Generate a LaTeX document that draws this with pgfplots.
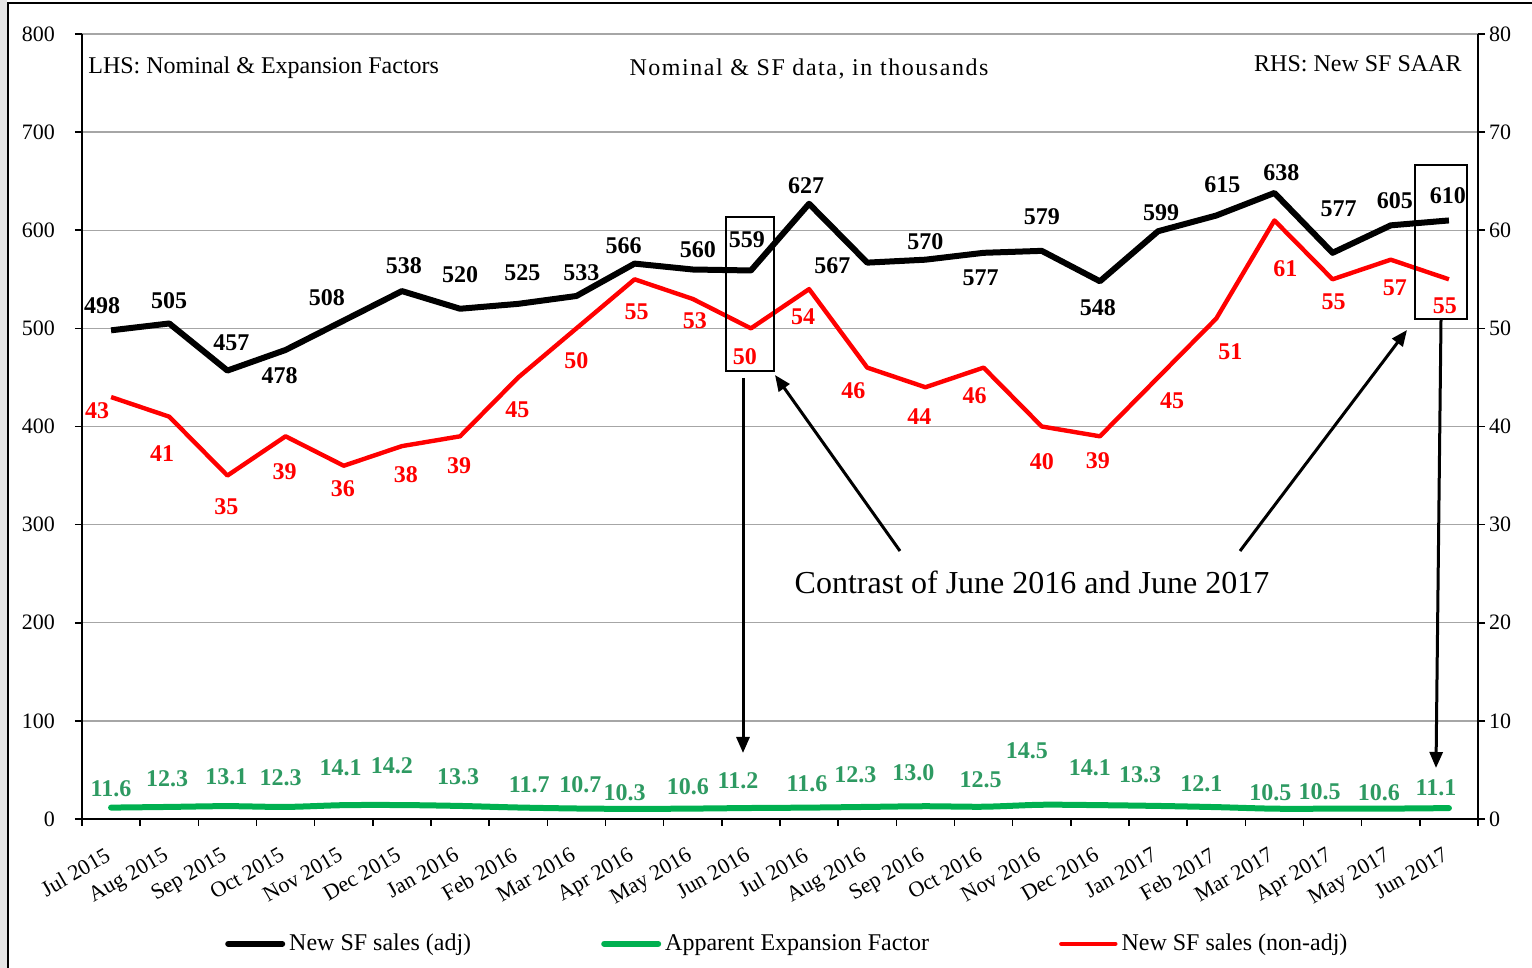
\documentclass[border=0pt]{standalone}
\usepackage{fontspec}
\setmainfont{Liberation Serif}
\usepackage{pgfplots}
\pgfplotsset{compat=1.18}
\usepackage{pgfplotstable}
\usetikzlibrary{arrows.meta}

\definecolor{sfgreen}{RGB}{0,176,80}
\definecolor{lblgreen}{RGB}{46,154,98}
\definecolor{gridgray}{RGB}{166,166,166}

% x  value  label-offset (pt)
\pgfplotstableread{
x y dx dy
0 498 -4.5 12.5
1 505 0 11.5
2 457 2 14
3 478 -3 -13
4 508 -8.5 11.5
5 538 1 12.5
6 520 0 17
7 525 2 15.5
8 533 2.5 11.5
9 566 -5.5 9
10 560 2.5 10
11 559 -2 15.5
12 627 -1.5 9
13 567 -17.5 -1.5
14 570 0 9
15 577 -1.5 -12.5
16 579 0 17
17 548 -1 -13
18 599 1.5 9.5
19 615 3 15.5
20 638 3.5 10
21 577 3 22
22 605 2 12.5
23 610 -0.5 12.5
}\adjtable

\pgfplotstableread{
x y dx dy
0 43 -7 -7
1 41 -3.5 -18.5
2 35 -0.5 -15.5
3 39 -0.5 -17.5
4 36 -0.5 -11.5
5 38 2 -14.5
6 39 -0.5 -14.5
7 45 -0.5 -16
8 50 0 -16
9 55 1 -16
10 53 1 -11
11 50 -3 -14
12 54 -3 -14
13 46 -7 -11.5
14 44 -3 -14.5
15 46 -4.5 -14
16 40 0 -17.5
17 39 -1 -12
18 45 7 -11.5
19 51 7 -16.5
20 61 5.5 -24
21 55 0.5 -11
22 57 2 -14
23 55 -2 -13
}\nonadjtable

\pgfplotstableread{
x y dx dy
0 11.6 0 9.5
1 12.3 -1 14
2 13.1 -0.5 14.5
3 12.3 -2.5 14.5
4 14.1 -1.5 18.5
5 14.2 -5 19.5
6 13.3 -1 14.5
7 11.7 5.5 11.5
8 10.7 2 12
9 10.3 -5 8
10 10.6 -2.5 11
11 11.2 -6.5 13.5
12 11.6 -1 12
13 12.3 -6 16
14 13.0 -6 17
15 12.5 -1.5 13.5
16 14.5 -7.5 27
17 14.1 -5 18.5
18 13.3 -9 15.5
19 12.1 -7.5 11.5
20 10.5 -2 8
21 10.5 -6.5 8.5
22 10.6 -6 8
23 11.1 -6.5 10
}\factable

\pgfplotsset{
  lbl/.style={
    nodes near coords, point meta=explicit symbolic,
    visualization depends on={\thisrow{dx}\as\mydx},
    visualization depends on={\thisrow{dy}\as\mydy},
    every node near coord/.append style={font=\bfseries\fontsize{12}{14}\selectfont,
      anchor=center, inner sep=0pt, xshift=\mydx pt, yshift=\mydy pt, text=#1}
  }
}

\begin{document}
\begin{tikzpicture}
\fill[black!10] (-41pt,-74.5pt) rectangle (-37.4pt,409.5pt);
\begin{axis}[
  at={(0pt,0pt)}, anchor=south west,
  width=698pt, height=392.5pt, scale only axis,
  xmin=-0.5, xmax=23.5, ymin=0, ymax=800,
  axis y line*=left, axis x line*=bottom,
  axis line style={-, line width=0.8pt, black},
  xtick={0,...,23},
  xticklabels={Jul 2015,Aug 2015,Sep 2015,Oct 2015,Nov 2015,Dec 2015,Jan 2016,Feb 2016,Mar 2016,Apr 2016,May 2016,Jun 2016,Jul 2016,Aug 2016,Sep 2016,Oct 2016,Nov 2016,Dec 2016,Jan 2017,Feb 2017,Mar 2017,Apr 2017,May 2017,Jun 2017},
  xtick style={draw=none},
  xticklabel style={yshift=-10pt, xshift=-3.5pt, rotate=30, anchor=north east, inner sep=0pt},
  ytick={0,100,...,800},
  ytick style={black, line width=0.8pt},
  yticklabel style={xshift=-6.5pt},
  tick align=outside, major tick length=3.5pt,
  ymajorgrids, grid style={gridgray, line width=0.75pt},
  ticklabel style={font=\fontsize{11}{13}\selectfont},
  /pgf/number format/assume math mode=true,
  legend columns=3,
  legend image code/.code={\draw[#1] (0pt,0pt) -- (27pt,0pt);},
  legend style={at={(0.506,-0.159)}, anchor=center, draw=none, fill=none,
    font=\fontsize{12}{14}\selectfont, inner xsep=0pt,
    /tikz/every even column/.append style={column sep=63pt},
    nodes={inner xsep=2pt}},
  legend cell align=left,
]
\addplot[black, line width=3pt, line join=round, lbl=black, forget plot]
  table[x=x, y=y, meta=y]{\adjtable};
\addplot[sfgreen, line width=3pt, smooth, line cap=round, lbl=lblgreen, forget plot]
  table[x=x, y=y, meta=y]{\factable};
\addlegendimage{black, line width=3pt, line cap=round}
\addlegendentry{New SF sales (adj)}
\addlegendimage{sfgreen, line width=3pt, line cap=round}
\addlegendentry{Apparent Expansion Factor}
\addlegendimage{red, line width=2.2pt, line cap=round}
\addlegendentry{New SF sales (non-adj)}
\end{axis}

\begin{axis}[
  at={(0pt,0pt)}, anchor=south west,
  width=698pt, height=392.5pt, scale only axis,
  xmin=-0.5, xmax=23.5, ymin=0, ymax=80,
  axis y line*=right, axis x line*=bottom,
  axis line style={-, line width=0.8pt, black},
  xtick={-0.5,0.5,1.5,2.5,3.5,4.5,5.5,6.5,7.5,8.5,9.5,10.5,11.5,12.5,13.5,14.5,15.5,16.5,17.5,18.5,19.5,20.5,21.5,22.5,23.5},
  xticklabel={\mbox{}},
  ytick={0,10,...,80},
  tick style={black, line width=0.8pt},
  tick align=outside, major tick length=3.5pt,
  yticklabel style={xshift=-1.5pt},
  ticklabel style={font=\fontsize{11}{13}\selectfont},
  /pgf/number format/assume math mode=true,
]
\addplot[red, line width=2.2pt, line join=round, lbl=red]
  table[x=x, y=y, meta=y]{\nonadjtable};
\end{axis}

% annotations
\node[anchor=west, inner sep=0pt, font=\fontsize{12}{14}\selectfont] at (3pt,375.5pt) {LHS: Nominal \& Expansion Factors};
\node[anchor=east, inner sep=0pt, font=\fontsize{12}{14}\selectfont] at (690pt,377.5pt) {RHS: New SF SAAR};
\node[inner sep=0pt, font=\fontsize{12}{14}\selectfont] at (363.5pt,375pt) {\addfontfeature{LetterSpace=6.5}Nominal \& SF data, in thousands};
\node[inner sep=0pt, font=\fontsize{16}{19}\selectfont] at (475pt,118.5pt) {Contrast of June 2016 and June 2017};

\draw[line width=0.8pt] (322pt,224pt) rectangle (346pt,301pt);
\draw[line width=0.8pt] (666.5pt,250pt) rectangle (692.5pt,327pt);

\draw[line width=1.5pt, -{Triangle[length=8pt,width=6.5pt]}] (330.5pt,220.5pt) -- (330.5pt,33pt);
\draw[line width=1.5pt, -{Triangle[length=8pt,width=6.5pt]}] (409pt,134pt) -- (346.5pt,222pt);
\draw[line width=1.5pt, -{Triangle[length=8pt,width=6.5pt]}] (579pt,134pt) -- (662.5pt,244.5pt);
\draw[line width=1.5pt, -{Triangle[length=8pt,width=6.5pt]}] (679.5pt,249.5pt) -- (677pt,25.5pt);

% outer chart border
\draw[line width=0.8pt] (-37pt,-80pt) -- (-37pt,408pt) -- (730pt,408pt);

\pgfresetboundingbox
\useasboundingbox (-41pt,-74.5pt) rectangle (725pt,409.5pt);
\end{tikzpicture}
\end{document}
